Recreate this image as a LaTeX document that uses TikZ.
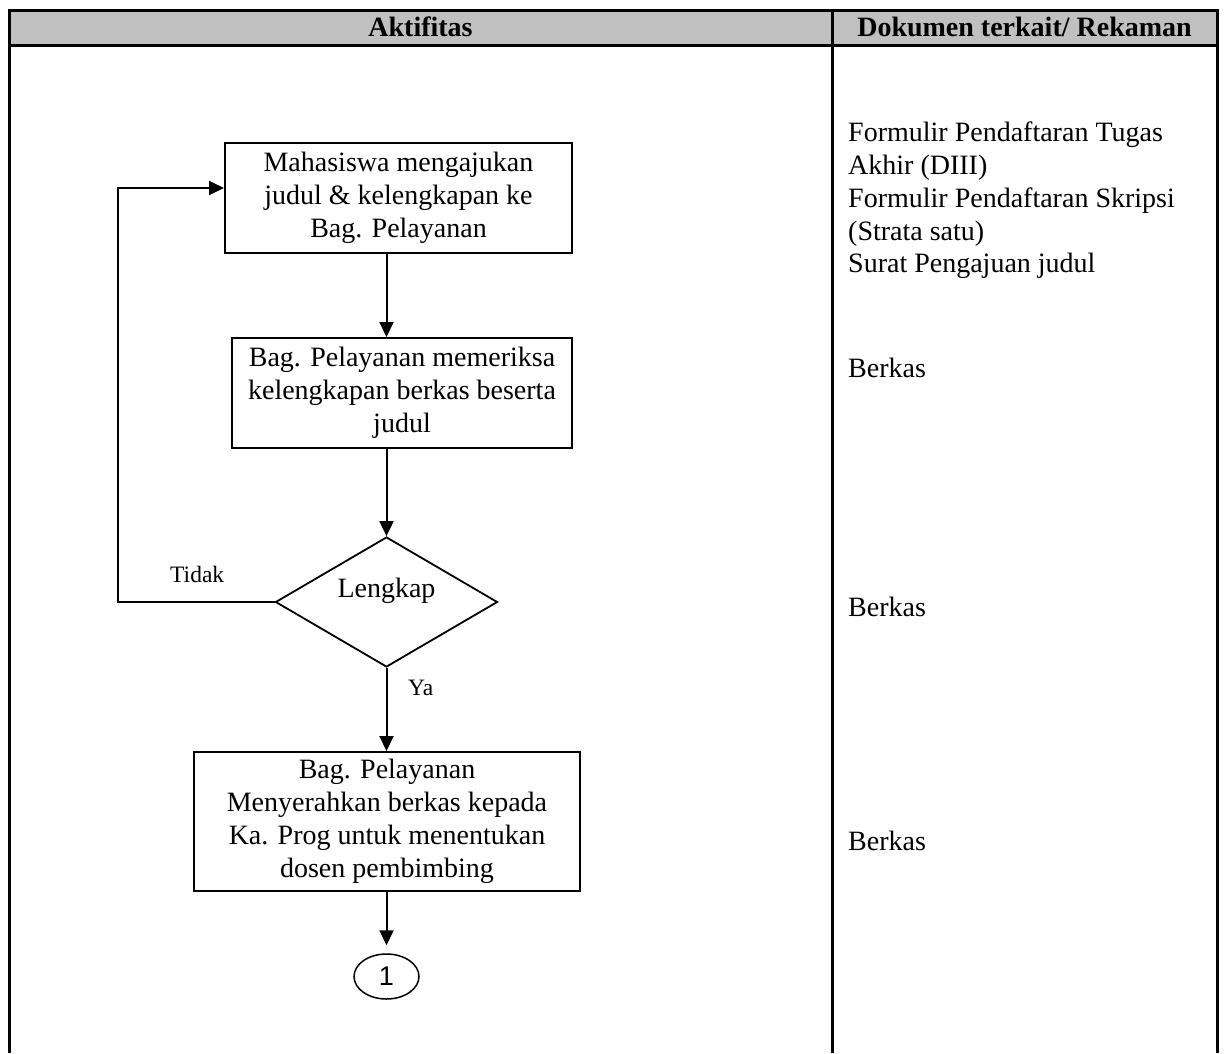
\documentclass[tikz,border=0pt]{standalone}
\usepackage{fontspec}
\setmainfont{Liberation Serif}
\newfontfamily\arialf{Liberation Sans}
\usetikzlibrary{shapes.geometric,arrows.meta}
\definecolor{headgray}{HTML}{C0C0C0}
\begin{document}
\begin{tikzpicture}[x=1pt,y=-1pt,
  every node/.style={font=\fontsize{28}{33}\selectfont, inner sep=0pt},
  tableline/.style={line width=3pt},
  procbox/.style={draw, line width=2pt, align=center},
  decision/.style={draw, diamond, aspect=1.7, line width=1.8pt},
  connector/.style={draw, ellipse, line width=1.5pt},
  flow/.style={line width=2pt},
  arr/.style={flow, -{Triangle[length=15pt,width=14pt]}},
  smalllabel/.style={font=\fontsize{23.5}{28}\selectfont, anchor=base west},
  headtext/.style={font=\bfseries\fontsize{28}{33}\selectfont, anchor=base},
  doctext/.style={anchor=base west}
]
\useasboundingbox (0,0) rectangle (1224,1053);

% table frame
\fill[headgray] (9,10) rectangle (1217,45);
\draw[tableline] (7.5,10) -- (1218.5,10);
\draw[tableline] (9,45) -- (1217,45);
\draw[tableline] (9,10) -- (9,1053);
\draw[tableline] (832,10) -- (832,1053);
\draw[tableline] (1217,10) -- (1217,1053);

\node[headtext] (h1) at (420.5,36) {Aktifitas};
\node[headtext] (h2) at (1024.5,36) {Dokumen terkait/ Rekaman};

% flow boxes
\node[procbox, minimum width=347pt, minimum height=110pt] (b1) at (398.5,198)
  {Mahasiswa mengajukan\\judul \& kelengkapan ke\\Bag. Pelayanan};
\node[procbox, minimum width=340pt, minimum height=110pt] (b2) at (402,393)
  {Bag. Pelayanan memeriksa\\kelengkapan berkas beserta\\judul};
\node[decision, minimum width=222pt, minimum height=130pt, text height=19pt, text depth=28pt] (d) at (386.5,602) {Lengkap};
\node[procbox, minimum width=386pt, minimum height=139pt] (b3) at (387,821.5)
  {Bag. Pelayanan\\Menyerahkan berkas kepada\\Ka. Prog untuk menentukan\\dosen pembimbing};
\node[connector, minimum width=65pt, minimum height=45pt] (c1) at (386.5,976.5) {\arialf\fontsize{27}{30}\selectfont 1};

% connectors
\coordinate (ax) at (386.5,0);
\coordinate (lx) at (118,0);
\coordinate (fbin) at ([yshift=10pt]b1.west);
\draw[arr] (b1.south -| ax) -- (b2.north -| ax);
\draw[arr] (b2.south -| ax) -- (d.north);
\draw[arr] (d.south) -- (b3.north -| ax);
\draw[arr, shorten >=8pt] (b3.south -| ax) -- (c1.north);
\draw[arr] (d.west) -- (lx |- d.west) -- (lx |- fbin) -- (fbin);

\node[smalllabel] (tidak) at (170,582) {Tidak};
\node[smalllabel] (ya) at (408,695) {Ya};

% documents column
\node[doctext] (r1) at (848,141) {Formulir Pendaftaran Tugas};
\node[doctext] (r2) at (848,174) {Akhir (DIII)};
\node[doctext] (r3) at (848,207) {Formulir Pendaftaran Skripsi};
\node[doctext] (r4) at (848,240) {(Strata satu)};
\node[doctext] (r5) at (848,272) {Surat Pengajuan judul};
\node[doctext] (r6) at (848,377) {Berkas};
\node[doctext] (r7) at (848,616) {Berkas};
\node[doctext] (r8) at (848,850) {Berkas};
\end{tikzpicture}
\end{document}
